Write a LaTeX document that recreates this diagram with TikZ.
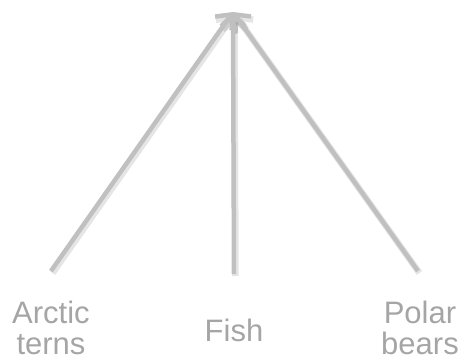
\documentclass[tikz,border=0pt]{standalone}
\usepackage{fontspec}
\setmainfont{Liberation Sans}
\usetikzlibrary{arrows.meta}
\definecolor{linegray}{RGB}{192,192,192}
\definecolor{textgray}{RGB}{165,165,165}
\tikzset{
  lbl/.style={text=textgray, font=\fontsize{31}{31}\selectfont, align=center, inner sep=0pt},
  conn/.style={draw=linegray, line width=4.5pt, -{Straight Barb[length=11pt,width=24pt]}},
  connshadow/.style={draw=black, opacity=0.10, line width=6.5pt, -{Straight Barb[length=11pt,width=24pt]}}
}
\begin{document}
\begin{tikzpicture}[x=1pt,y=-1pt]
\useasboundingbox (0,0) rectangle (464,362);
\coordinate (apex) at (233,12);
\coordinate (s1) at (51,271);
\coordinate (s2) at (234,274);
\coordinate (s3) at (418,271);
\begin{scope}[shift={(1.5,2)}]
\coordinate (apexs) at (233,12);
\coordinate (s1s) at (51,271);
\coordinate (s2s) at (234,274);
\coordinate (s3s) at (418,271);
\end{scope}
\draw[connshadow] (s1s) -- (apexs);
\draw[connshadow] (s2s) -- (apexs);
\draw[connshadow] (s3s) -- (apexs);
\draw[conn] (s1) -- (apex);
\draw[conn] (s2) -- (apex);
\draw[conn] (s3) -- (apex);
\node[lbl, anchor=base] (arctic) at (51,354) {Arctic\\terns};
\node[lbl, anchor=base] (fish) at (234,341) {Fish};
\node[lbl, anchor=base] (polar) at (420,354) {Polar\\bears};
\end{tikzpicture}
\end{document}
